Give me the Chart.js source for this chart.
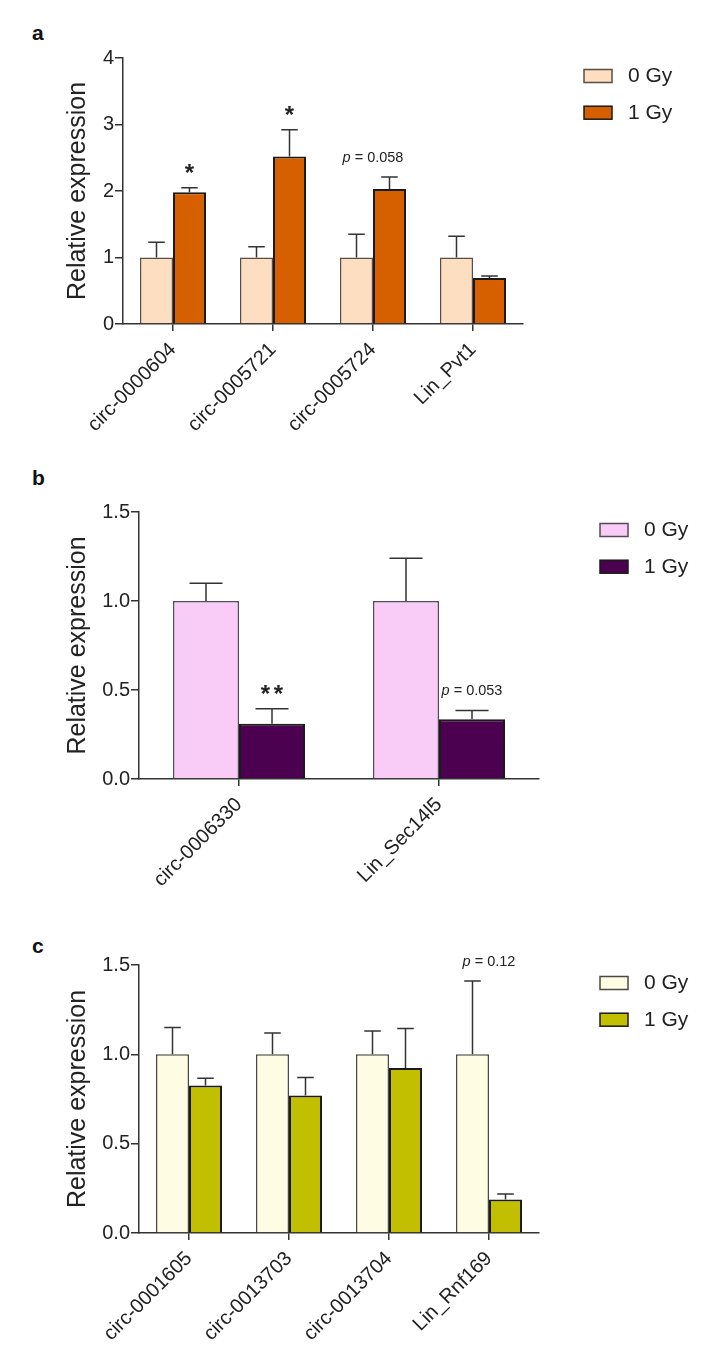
<!DOCTYPE html>
<html>
<head>
<meta charset="utf-8">
<script src="https://cdn.jsdelivr.net/npm/chart.js@4.4.1/dist/chart.umd.min.js"></script>
<style>
  body { margin: 0; background: #fff; width: 714px; height: 1357px; position: relative;
         font-family: "Liberation Sans", Arial, sans-serif; }
  canvas { position: absolute; left: 0; }
  .tag { position: absolute; left: 32px; font-weight: bold; font-size: 21px; line-height: 21px; color: #111; }
</style>
</head>
<body>
<div class="tag" style="top:22px">a</div>
<div class="tag" style="top:467px">b</div>
<div class="tag" style="top:935px">c</div>
<canvas id="chartA" width="714" height="470" style="top:0"></canvas>
<canvas id="chartB" width="714" height="430" style="top:470px"></canvas>
<canvas id="chartC" width="714" height="457" style="top:900px"></canvas>
<script>
// ----------------------------------------------------------------
//  Data (mean and SEM)
// ----------------------------------------------------------------
const seriesNames = ['0 Gy', '1 Gy'];

const genesA   = ['circ-0000604', 'circ-0005721', 'circ-0005724', 'Lin_Pvt1'];
const ctrlA    = [1, 1, 1, 1];
const ctrlErrA = [0.23, 0.16, 0.35, 0.32];
const irrA     = [1.98, 2.52, 2.03, 0.69];
const irrErrA  = [0.07, 0.40, 0.18, 0.03];
const ticksA   = [0, 1, 2, 3, 4];

const genesB   = ['circ-0006330', 'Lin_Sec14l5'];
const ctrlB    = [1, 1];
const ctrlErrB = [0.10, 0.24];
const irrB     = [0.31, 0.335];
const irrErrB  = [0.085, 0.05];
const ticksB   = [0, 0.5, 1, 1.5];

const genesC   = ['circ-0001605', 'circ-0013703', 'circ-0013704', 'Lin_Rnf169'];
const ctrlC    = [1, 1, 1, 1];
const ctrlErrC = [0.15, 0.12, 0.13, 0.41];
const irrC     = [0.826, 0.77, 0.924, 0.188];
const irrErrC  = [0.04, 0.10, 0.22, 0.03];
const ticksC   = [0, 0.5, 1, 1.5];

// significance labels: category, dataset whose error bar it sits on
const marksA = [
  { cat: 0, ds: 1, text: '*', onBar: true },
  { cat: 1, ds: 1, text: '*', onBar: true },
  { cat: 2, ds: 1, text: 'p = 0.058', onBar: false },
];
const marksB = [
  { cat: 0, ds: 1, text: '**', onBar: true },
  { cat: 1, ds: 1, text: 'p = 0.053', onBar: true },
];
const marksC = [
  { cat: 3, ds: 0, text: 'p = 0.12', onBar: false },
];

Chart.defaults.font.family = '"Liberation Sans", Arial, sans-serif';

// ----------------------------------------------------------------
//  Upper error bars (cap = half bar width)
// ----------------------------------------------------------------
const errorBars = {
  id: 'errorBars',
  afterDatasetsDraw(chart) {
    const { ctx, scales: { y } } = chart;
    ctx.save();
    ctx.strokeStyle = '#333';
    ctx.lineWidth = 1.5;
    chart.data.datasets.forEach((ds, i) => {
      chart.getDatasetMeta(i).data.forEach((bar, j) => {
        const top = y.getPixelForValue(ds.data[j] + ds.errors[j]);
        const half = bar.width / 4;
        ctx.beginPath();
        ctx.moveTo(bar.x, bar.y);
        ctx.lineTo(bar.x, top);
        ctx.moveTo(bar.x - half, top);
        ctx.lineTo(bar.x + half, top);
        ctx.stroke();
      });
    });
    ctx.restore();
  }
};

// ----------------------------------------------------------------
//  Stars / p values above the error bars
// ----------------------------------------------------------------
const sigMarks = {
  id: 'sigMarks',
  afterDatasetsDraw(chart, args, opts) {
    const { ctx, scales: { x, y } } = chart;
    ctx.save();
    ctx.fillStyle = '#222';
    ctx.textBaseline = 'alphabetic';
    (opts.marks || []).forEach(m => {
      const ds  = chart.data.datasets[m.ds];
      const top = y.getPixelForValue(ds.data[m.cat] + ds.errors[m.cat]);
      const cx  = m.onBar ? chart.getDatasetMeta(m.ds).data[m.cat].x : x.getPixelForValue(m.cat);
      if (m.text[0] === '*') {
        ctx.font = 'bold 24px "Liberation Sans", Arial, sans-serif';
        ctx.textAlign = 'center';
        const n = m.text.length;
        for (let k = 0; k < n; k++) {
          ctx.fillText('*', cx + (k - (n - 1) / 2) * 13, top - 7);
        }
      } else {
        const rest = m.text.slice(1);
        ctx.textAlign = 'left';
        ctx.font = 'italic 14.5px "Liberation Sans", Arial, sans-serif';
        const wp = ctx.measureText('p').width;
        ctx.font = '14.5px "Liberation Sans", Arial, sans-serif';
        const wr = ctx.measureText(rest).width;
        const x0 = cx - (wp + wr) / 2;
        ctx.font = 'italic 14.5px "Liberation Sans", Arial, sans-serif';
        ctx.fillText('p', x0, top - 15);
        ctx.font = '14.5px "Liberation Sans", Arial, sans-serif';
        ctx.fillText(rest, x0 + wp, top - 15);
      }
    });
    ctx.restore();
  }
};

// ----------------------------------------------------------------
//  Legend to the right of the plot area
// ----------------------------------------------------------------
const sideLegend = {
  id: 'sideLegend',
  afterDraw(chart) {
    const { ctx, chartArea } = chart;
    ctx.save();
    chart.data.datasets.forEach((ds, i) => {
      const bx = chartArea.right + 61;
      const by = chartArea.top + 11.5 + i * 36.7;
      ctx.fillStyle = ds.backgroundColor;
      ctx.fillRect(bx, by, 28, 13);
      ctx.strokeStyle = ds.borderColor;
      ctx.lineWidth = 1.5;
      ctx.strokeRect(bx, by, 28, 13);
      ctx.fillStyle = '#222';
      ctx.font = '21px "Liberation Sans", Arial, sans-serif';
      ctx.textAlign = 'left';
      ctx.textBaseline = 'middle';
      ctx.fillText(ds.label, bx + 44, by + 7);
    });
    ctx.restore();
  }
};

// ----------------------------------------------------------------
//  One panel
// ----------------------------------------------------------------
function makePanel(id, p) {
  const ticks = p.ticks;
  return new Chart(document.getElementById(id), {
    type: 'bar',
    data: {
      labels: p.labels,
      datasets: [{
        label: seriesNames[0],
        data: p.ctrl,
        errors: p.ctrlErr,
        backgroundColor: p.fill[0],
        borderColor: p.edge[0],
        borderWidth: 1.5,
      }, {
        label: seriesNames[1],
        data: p.irr,
        errors: p.irrErr,
        backgroundColor: p.fill[1],
        borderColor: p.edge[1],
        borderWidth: 2,
      }]
    },
    options: {
      responsive: false,
      animation: false,
      categoryPercentage: 0.66,
      barPercentage: 1,
      layout: { padding: p.pad },
      plugins: {
        legend: { display: false },
        tooltip: { enabled: false },
        sigMarks: { marks: p.marks },
      },
      scales: {
        x: {
          grid: { offset: false, drawOnChartArea: false, tickLength: 7, color: '#333', lineWidth: 1.5 },
          border: { color: '#333', width: 1.5 },
          ticks: { autoSkip: false, minRotation: 45, maxRotation: 45, padding: 7, color: '#222', font: { size: 20 } },
          afterFit: s => { s.height = p.xh; }
        },
        y: {
          min: ticks[0],
          max: ticks[ticks.length - 1],
          grid: { drawOnChartArea: false, tickLength: 8, color: '#333', lineWidth: 1.5 },
          border: { color: '#333', width: 1.5 },
          ticks: {
            stepSize: ticks[1] - ticks[0],
            padding: 1,
            color: '#222',
            font: { size: 20 },
            callback: v => v.toFixed(p.decimals)
          },
          title: {
            display: true,
            text: 'Relative expression',
            color: '#222',
            font: { size: 25 },
            padding: { top: 63, bottom: 0 }
          },
          afterFit: s => { s.width = p.yw; }
        }
      }
    },
    plugins: [errorBars, sigMarks, sideLegend]
  });
}

makePanel('chartA', {
  labels: genesA, ctrl: ctrlA, ctrlErr: ctrlErrA, irr: irrA, irrErr: irrErrA,
  ticks: ticksA, decimals: 0, marks: marksA,
  fill: ['#FDDEC0', '#D66000'], edge: ['#5a4d42', '#1a1a1a'],
  pad: { top: 58, right: 191, bottom: 0, left: 0 }, yw: 123, xh: 146
});

makePanel('chartB', {
  labels: genesB, ctrl: ctrlB, ctrlErr: ctrlErrB, irr: irrB, irrErr: irrErrB,
  ticks: ticksB, decimals: 1, marks: marksB,
  fill: ['#F8CCF6', '#4B0050'], edge: ['#55495a', '#1a1a1a'],
  pad: { top: 42, right: 175, bottom: 0, left: 0 }, yw: 139, xh: 121
});

makePanel('chartC', {
  labels: genesC, ctrl: ctrlC, ctrlErr: ctrlErrC, irr: irrC, irrErr: irrErrC,
  ticks: ticksC, decimals: 1, marks: marksC,
  fill: ['#FEFDE4', '#C2BF00'], edge: ['#4a4a42', '#1a1a1a'],
  pad: { top: 65, right: 175, bottom: 0, left: 0 }, yw: 139, xh: 124
});
</script>
</body>
</html>
